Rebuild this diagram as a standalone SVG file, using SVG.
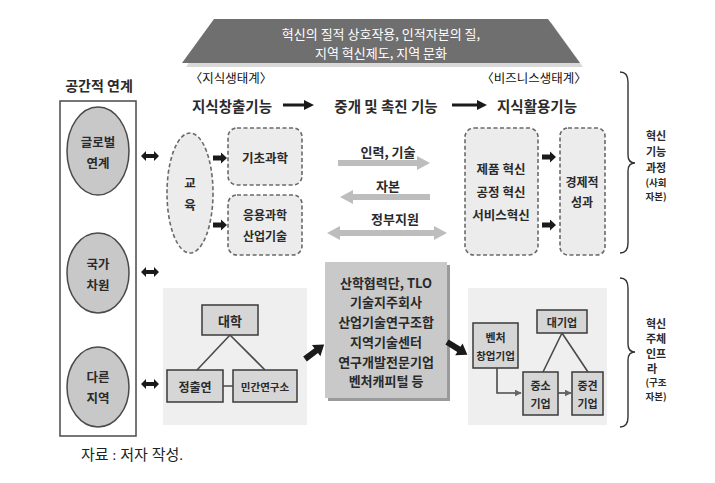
<svg xmlns="http://www.w3.org/2000/svg" width="715" height="483" viewBox="0 0 715 483">
<style>
text{font-family:"Noto Sans CJK KR","Noto Sans",sans-serif;fill:#2a2a2a;text-anchor:middle;dominant-baseline:central}
.b{font-weight:700}
.dash{fill:#ececec;stroke:#6a6a6a;stroke-width:1.6;stroke-dasharray:4 2.5}
.circ{fill:#c8c8c8;stroke:#4a4a4a;stroke-width:1.5}
.box{fill:#d6d6d6;stroke:#3a3a3a;stroke-width:1.5}
.area{fill:#efefef}
.ln{stroke:#4a4a4a;stroke-width:1.6;fill:none}
.brace{stroke:#333;stroke-width:1.4;fill:none}
.ga{fill:#bdbdbd}
.blk{fill:#1a1a1a}
</style>
<defs>
<path id="dbl" d="M-9,0 L-4,-5 L-4,-2 L4,-2 L4,-5 L9,0 L4,5 L4,2 L-4,2 L-4,5 Z"/>
<path id="sm" d="M0,-2.5 L8,-2.5 L8,-5.5 L14,0 L8,5.5 L8,2.5 L0,2.5 Z"/>
<path id="thick" d="M0,-3 L14,-3 L14,-7 L24,0 L14,7 L14,3 L0,3 Z"/>
<marker id="gh" viewBox="0 0 10 10" refX="9" refY="5" markerWidth="7" markerHeight="7" markerUnits="userSpaceOnUse" orient="auto"><path d="M0,0 L10,5 L0,10 Z" fill="#666"/></marker>
</defs>

<!-- top banner -->
<g id="banner">
<polygon points="217,22 551,22 583,67 186,67" fill="#d9d9d9"/>
<polygon points="214,19 548,19 580,63 182,63" fill="#6f6f6f"/>
<text x="381" y="33" font-size="13" style="fill:#fff">혁신의 질적 상호작용, 인적자본의 질,</text>
<text x="381" y="52" font-size="13" style="fill:#fff">지역 혁신제도, 지역 문화</text>
</g>

<!-- headings -->
<g id="headings">
<text x="99" y="85" font-size="14" class="b">공간적 연계</text>
<text x="231" y="77" font-size="12.5" style="fill:#111">〈지식생태계〉</text>
<text x="534" y="77" font-size="12.5" style="fill:#111">〈비즈니스생태계〉</text>
<text x="232" y="105" font-size="14.5" class="b">지식창출기능</text>
<text x="386" y="105" font-size="14.5" class="b">중개 및 촉진 기능</text>
<text x="537" y="105" font-size="14.5" class="b">지식활용기능</text>
</g>

<!-- spatial links column -->
<g id="spatial">
<rect x="60" y="101" width="76" height="335" fill="#fff" stroke="#4a4a4a" stroke-width="1.5"/>
</g>
<g id="global">
<ellipse cx="98" cy="151" rx="31" ry="44" class="circ"/>
<text x="98" y="141" font-size="12.5" class="b">글로벌</text>
<text x="98" y="162" font-size="12.5" class="b">연계</text>
</g>
<g id="national">
<ellipse cx="98" cy="273" rx="31" ry="40" class="circ"/>
<text x="98" y="263" font-size="12.5" class="b">국가</text>
<text x="98" y="284" font-size="12.5" class="b">차원</text>
</g>
<g id="other">
<ellipse cx="98" cy="387" rx="31" ry="40" class="circ"/>
<text x="98" y="376" font-size="12.5" class="b">다른</text>
<text x="98" y="397" font-size="12.5" class="b">지역</text>
</g>

<!-- knowledge ecosystem -->
<g id="education">
<ellipse cx="190" cy="193" rx="23" ry="60" class="dash"/>
<text x="190" y="182" font-size="12.5" class="b">교</text>
<text x="190" y="204" font-size="12.5" class="b">육</text>
</g>
<g id="basic">
<rect x="228" y="128" width="74" height="57" rx="9" class="dash"/>
<text x="265" y="157" font-size="12.5" class="b">기초과학</text>
</g>
<g id="applied">
<rect x="228" y="195" width="74" height="60" rx="9" class="dash"/>
<text x="265" y="214" font-size="12" class="b">응용과학</text>
<text x="265" y="235" font-size="12" class="b">산업기술</text>
</g>

<!-- business ecosystem -->
<g id="innovation">
<rect x="465" y="128" width="73" height="127" rx="9" class="dash"/>
<text x="501" y="168" font-size="12.5" class="b">제품 혁신</text>
<text x="501" y="191" font-size="12.5" class="b">공정 혁신</text>
<text x="501" y="214" font-size="12.5" class="b">서비스혁신</text>
</g>
<g id="performance">
<rect x="560" y="128" width="45" height="127" rx="8" class="dash"/>
<text x="582" y="181" font-size="12" class="b">경제적</text>
<text x="582" y="201" font-size="12" class="b">성과</text>
</g>

<!-- lower left area -->
<g id="univ-area">
<rect x="163" y="288" width="144" height="137" class="area"/>
</g>
<g id="university">
<rect x="202" y="305" width="56" height="30" class="box"/>
<text x="230" y="320" font-size="13" class="b">대학</text>
</g>
<g id="gri">
<rect x="167" y="370" width="56" height="32" class="box"/>
<text x="195" y="386" font-size="12" class="b">정출연</text>
</g>
<g id="private">
<rect x="233" y="370" width="64" height="32" class="box"/>
<text x="265" y="386" font-size="10.5" class="b">민간연구소</text>
</g>

<!-- intermediary box -->
<g id="intermediary">
<rect x="328" y="265" width="122" height="136" fill="#9a9a9a"/>
<rect x="325" y="262" width="122" height="136" fill="#c9c9c9"/>
<text x="386" y="282" font-size="13" class="b">산학협력단, TLO</text>
<text x="386" y="301" font-size="13" class="b">기술지주회사</text>
<text x="386" y="321" font-size="13" class="b">산업기술연구조합</text>
<text x="386" y="341" font-size="13" class="b">지역기술센터</text>
<text x="386" y="361" font-size="13" class="b">연구개발전문기업</text>
<text x="386" y="380" font-size="13" class="b">벤처캐피털 등</text>
</g>

<!-- lower right area -->
<g id="firm-area">
<rect x="468" y="288" width="139" height="137" class="area"/>
</g>
<g id="large">
<rect x="537" y="310" width="50" height="23" class="box"/>
<text x="562" y="322" font-size="11" class="b">대기업</text>
</g>
<g id="venture">
<rect x="473" y="323" width="45" height="45" class="box"/>
<text x="495.5" y="337" font-size="11" class="b">벤처</text>
<text x="495.5" y="355" font-size="10.5" class="b">창업기업</text>
</g>
<g id="sme">
<rect x="523" y="372" width="35" height="43" class="box"/>
<text x="540.5" y="385" font-size="11" class="b">중소</text>
<text x="540.5" y="403" font-size="11" class="b">기업</text>
</g>
<g id="midsize">
<rect x="572" y="372" width="31" height="43" class="box"/>
<text x="587.5" y="385" font-size="11" class="b">중견</text>
<text x="587.5" y="403" font-size="11" class="b">기업</text>
</g>

<!-- braces and labels -->
<g id="brace1">
<path class="brace" d="M620,72 Q628,72 628,82 L628,155 Q628,163 635,163 Q628,163 628,171 L628,243 Q628,253 620,253"/>
<text x="656" y="135" font-size="11" class="b">혁신</text>
<text x="656" y="151" font-size="11" class="b">기능</text>
<text x="656" y="167" font-size="11" class="b">과정</text>
<text x="656" y="182" font-size="9.5" class="b">(사회</text>
<text x="656" y="196" font-size="9.5" class="b">자본)</text>
</g>
<g id="brace2">
<path class="brace" d="M620,278 Q628,278 628,288 L628,344 Q628,352 635,352 Q628,352 628,360 L628,417 Q628,427 620,427"/>
<text x="656" y="323" font-size="11" class="b">혁신</text>
<text x="656" y="338" font-size="11" class="b">주체</text>
<text x="656" y="353" font-size="11" class="b">인프</text>
<text x="652" y="368" font-size="11" class="b">라</text>
<text x="656" y="382" font-size="9.5" class="b">(구조</text>
<text x="656" y="396" font-size="9.5" class="b">자본)</text>
</g>

<!-- connectors -->
<g id="connectors">
<polygon class="blk" points="283,103.5 304,103.5 304,100 314,105 304,110 304,106.5 283,106.5"/>
<polygon class="blk" points="452,103.5 477,103.5 477,100 487,105 477,110 477,106.5 452,106.5"/>
<use href="#dbl" class="blk" transform="translate(150,156)"/>
<use href="#dbl" class="blk" transform="translate(150,272)"/>
<use href="#dbl" class="blk" transform="translate(150,384)"/>
<use href="#sm" class="blk" transform="translate(213,158)"/>
<use href="#sm" class="blk" transform="translate(213,225)"/>
<use href="#sm" class="blk" transform="translate(542,157)"/>
<use href="#sm" class="blk" transform="translate(542,225)"/>
<polygon class="ga" points="338,160 417,160 417,156 430,163 417,170 417,166 338,166"/>
<polygon class="ga" points="430,194 353,194 353,190 340,197 353,204 353,200 430,200"/>
<polygon class="ga" points="327,233 340,226 340,230 434,230 434,226 447,233 434,240 434,236 340,236 340,240"/>
<text x="388" y="151" font-size="13" class="b">인력, 기술</text>
<text x="388" y="185" font-size="13" class="b">자본</text>
<text x="395" y="218" font-size="13" class="b">정부지원</text>
<path class="ln" d="M230,335 L197,370 M230,335 L265,370 M223,386 L233,386"/>
<path class="ln" d="M562,333 L543,372 M562,333 L588,372"/>
<path class="ln" d="M497,368 L497,393 L521,393" stroke="#666" marker-end="url(#gh)"/>
<path class="ln" d="M558,393 L571,393" stroke="#666" marker-end="url(#gh)"/>
<use href="#thick" class="blk" transform="translate(305,359) rotate(-37)"/>
<use href="#thick" class="blk" transform="translate(447,342) rotate(32)"/>
</g>

<text x="132" y="455" font-size="15" style="font-family:'Liberation Serif','Noto Sans CJK KR',serif;fill:#222">자료 : 저자 작성.</text>
</svg>
